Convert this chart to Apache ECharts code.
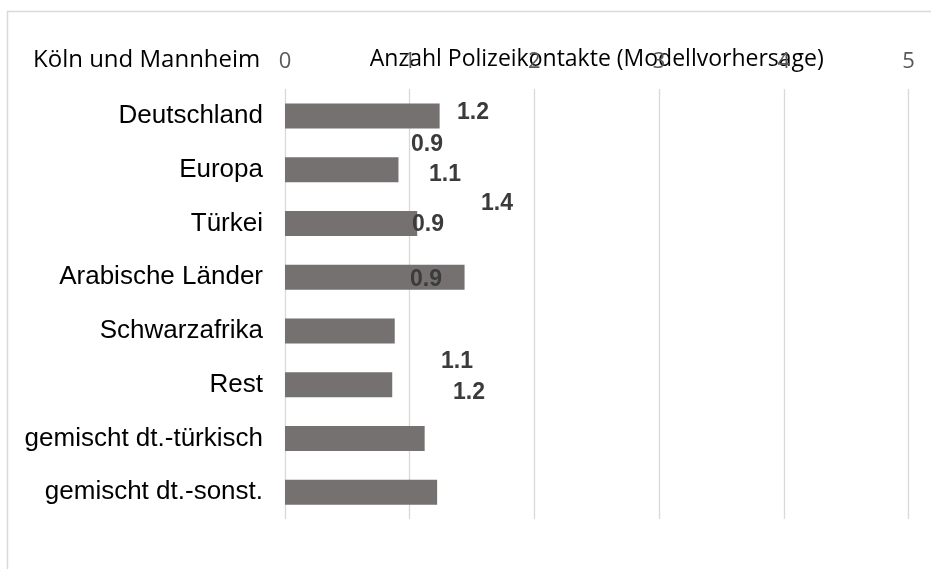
<!DOCTYPE html>
<html>
<head>
<meta charset="utf-8">
<script src="https://cdn.jsdelivr.net/npm/echarts@6/dist/echarts.min.js"></script>
<style>html,body{margin:0;padding:0;background:#fff;}#c{width:931px;height:569px;}</style>
</head>
<body>
<div id="c"></div>
<script>
const categories = ['Deutschland', 'Europa', 'Türkei', 'Arabische Länder', 'Schwarzafrika', 'Rest', 'gemischt dt.-türkisch', 'gemischt dt.-sonst.'];
const values = [1.24, 0.91, 1.06, 1.44, 0.88, 0.86, 1.12, 1.22];
const xTicks = [0, 1, 2, 3, 4, 5];
const axisTitle = 'Anzahl Polizeikontakte (Modellvorhersage)';
const panelTitle = 'Köln und Mannheim';

// label placement (pixels from each bar's top-left), as in the reference
const labelNudge = [[188, 9.5], [142, -12.5], [160, -36], [212, -60.5], [143, -94], [141, -92], [172, -64], [184, -86.5]];

const chart = echarts.init(document.getElementById('c'));
chart.setOption({
  animation: false,
  backgroundColor: '#fff',
  graphic: [{
    type: 'rect', left: 5, top: 9, shape: { width: 960, height: 620 },
    style: { fill: 'none', stroke: '#d9d9d9', lineWidth: 1.5 }, silent: true, z: -10
  }],
  title: {
    text: panelTitle, left: 28, top: 43,
    textStyle: { fontFamily: 'Open Sans', fontWeight: 'normal', fontSize: 24, color: '#000' }
  },
  grid: { left: 285, right: 22.5, top: 89, bottom: 50, containLabel: false },
  xAxis: {
    type: 'value', position: 'top', min: 0, max: 5, interval: 1,
    name: axisTitle, nameLocation: 'middle', nameGap: 18, nameMoveOverlap: false,
    nameTextStyle: { fontFamily: 'Open Sans', fontSize: 23, color: '#000' },
    axisLine: { show: false }, axisTick: { show: false },
    axisLabel: { margin: 16, fontFamily: 'Open Sans', fontSize: 22, color: '#595959',
      formatter: v => xTicks.includes(v) ? String(v) : '' },
    splitLine: { show: true, lineStyle: { color: '#d9d9d9', width: 1.3 } }
  },
  yAxis: {
    type: 'category', data: categories, inverse: true,
    axisLine: { show: false }, axisTick: { show: false },
    axisLabel: { margin: 22, fontFamily: 'Liberation Sans', fontSize: 26, color: '#000' }
  },
  series: [{
    type: 'bar', barWidth: 25,
    itemStyle: { color: '#767171' },
    data: values.map((v, i) => ({
      value: v,
      label: { position: labelNudge[i] }
    })),
    label: {
      show: true, align: 'center', verticalAlign: 'middle',
      fontFamily: 'Liberation Sans', fontWeight: 'bold', fontSize: 23, color: '#3b3b3b',
      formatter: p => p.value.toFixed(1)
    }
  }]
});
</script>
</body>
</html>
